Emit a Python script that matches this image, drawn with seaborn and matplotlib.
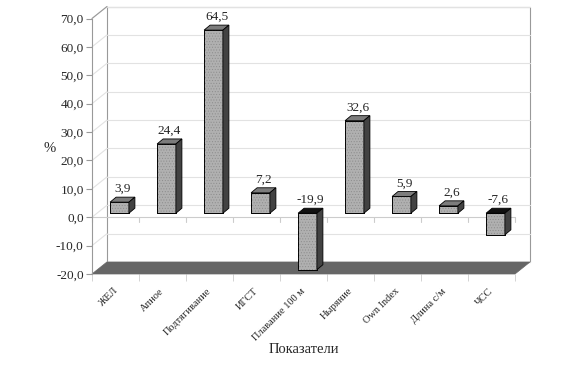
import numpy as np
import matplotlib
matplotlib.use("Agg")
import matplotlib.pyplot as plt
import matplotlib.transforms as mtransforms
from matplotlib.patches import Polygon, Rectangle
import seaborn as sns

# data
categories = ["ЖЕЛ", "Апное", "Подтягивание", "ИГСТ", "Плавание 100 м",
              "Ныряние", "Own Index", "Длина с/м", "ЧСС"]
values = [3.9, 24.4, 64.5, 7.2, -19.9, 32.6, 5.9, 2.6, -7.6]
yticks = np.arange(-20, 71, 10)

sns.set_style("white")
plt.rcParams['font.family'] = ['Liberation Serif', 'DejaVu Serif']
plt.rcParams['hatch.linewidth'] = 0.4

fig = plt.figure(figsize=(5.7, 3.7), dpi=100)
fig.patch.set_facecolor("white")
ax = fig.add_axes([92/570, 96/370, 423/570, 255.5/370])
ax.patch.set_alpha(0)

# pixel -> data conversion for the fake depth
px_x = 9/423
px_y = 90/255.5
Dx, Dy = 15*px_x, 12*px_y      # full depth of the box
ox, oy = 4*px_x, 4*px_y        # bar plane offset
bx, by = 6*px_x, 5*px_y        # bar depth

x0, x1 = -0.5, 8.5
y0, y1 = -20, 70

sns.barplot(x=categories, y=values, ax=ax, color="#b0b0b0", saturation=1,
            width=0.4, edgecolor="black", linewidth=0.6)
bars = list(ax.containers[0])

# back wall
ax.add_patch(Rectangle((x0+Dx, y0+Dy), x1-x0, y1-y0, facecolor="white",
                       edgecolor="#999999", lw=0.8, zorder=0, clip_on=False))
# left wall edge
ax.plot([x0, x0+Dx], [y1, y1+Dy], color="#999999", lw=0.8, zorder=0.6, clip_on=False)
for t in yticks:
    ax.plot([x0+Dx, x1+Dx], [t+Dy, t+Dy], color="#e2e2e2", lw=0.8, zorder=0.5, clip_on=False)
    ax.plot([x0, x0+Dx], [t, t+Dy], color="#e2e2e2", lw=0.8, zorder=0.5, clip_on=False)

# floor
ax.add_patch(Polygon([(x0, y0), (x1, y0), (x1+Dx, y0+Dy), (x0+Dx, y0+Dy)],
                     closed=True, facecolor="#666666", edgecolor="#666666",
                     lw=0.5, zorder=1, clip_on=False))

# category line at zero (front plane)
ax.plot([x0, x1], [0, 0], color="#cccccc", lw=0.8, zorder=1.5, clip_on=False)
for b in np.arange(x0, x1+0.01, 1):
    ax.plot([b, b], [0, -5*px_y], color="#cccccc", lw=0.8, zorder=1.5, clip_on=False)

for i, p in enumerate(bars):
    v = values[i]
    p.set_x(p.get_x() + ox)
    p.set_y(p.get_y() + oy)
    p.set_zorder(4 + i)
    xa = p.get_x()
    xb = xa + p.get_width()
    bot = min(0, v) + oy
    top = max(0, v) + oy
    ax.add_patch(Rectangle((xa, bot), p.get_width(), top-bot, fill=False,
                           hatch="......", edgecolor="#8c8c8c", lw=0, zorder=4.1+i))
    ax.add_patch(Rectangle((xa, bot), p.get_width(), top-bot, fill=False,
                           edgecolor="black", lw=0.6, zorder=4.2+i))
    topc = "#7c7c7c" if v > 0 else "#111111"
    ax.add_patch(Polygon([(xa, top), (xb, top), (xb+bx, top+by), (xa+bx, top+by)],
                         closed=True, facecolor=topc, edgecolor="black", lw=0.6,
                         zorder=4.3+i))
    ax.add_patch(Polygon([(xb, bot), (xb, top), (xb+bx, top+by), (xb+bx, bot+by)],
                         closed=True, facecolor="#424242", edgecolor="black", lw=0.6,
                         zorder=4.3+i))
    ax.annotate(f"{v:.1f}".replace(".", ","), ((xa+xb)/2 + bx/2, top+by),
                xytext=(0, 1.5), textcoords="offset points", ha="center", va="bottom",
                fontsize=9.5, zorder=20)

ax.set_xlim(x0, x1)
ax.set_ylim(y0, y1)
for s in ["top", "right", "bottom"]:
    ax.spines[s].set_visible(False)
ax.spines["left"].set_color("#999999")
ax.spines["left"].set_linewidth(0.8)

ax.set_yticks(yticks)
ax.set_yticklabels([f"{t:.1f}".replace(".", ",") for t in yticks], fontsize=9.5)
ax.tick_params(axis="y", which="major", left=True, length=4, color="#999999", pad=2)

ax.set_xticks(range(len(categories)))
ax.set_xticklabels(categories, rotation=45, ha="right", va="top",
                   rotation_mode="anchor", fontsize=7.5)
ax.tick_params(axis="x", which="major", length=0, pad=9)
shift = mtransforms.ScaledTranslation(-3/100, 0, fig.dpi_scale_trans)
for lab in ax.get_xticklabels():
    lab.set_transform(lab.get_transform() + shift)
ax.set_xticks(np.arange(x0, x1+0.01, 1), minor=True)
ax.tick_params(axis="x", which="minor", bottom=True, length=5, color="#cccccc")

ax.set_ylabel("%", fontsize=10.5, rotation=0, va="center", ha="center")
ax.yaxis.set_label_coords(-0.1, 0.49)
ax.set_xlabel("Показатели", fontsize=10.5)
ax.xaxis.set_label_coords(0.5, -0.27)

fig.savefig("out.png", dpi=100)
